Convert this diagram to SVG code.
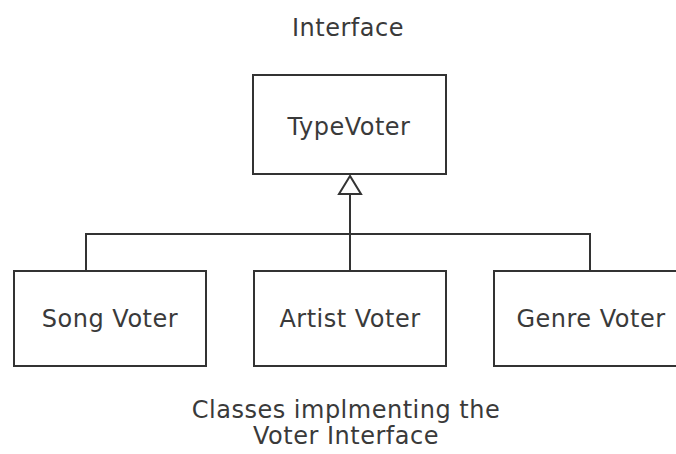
<svg xmlns="http://www.w3.org/2000/svg" width="676" height="454" viewBox="0 0 676 454">
<style>
.box{fill:#fff;stroke:#333;stroke-width:2}
.lbl{font-family:"DejaVu Sans",sans-serif;font-size:24px;letter-spacing:0.5px;fill:#3a3a3a;text-anchor:middle}
.con{fill:none;stroke:#333;stroke-width:2}
</style>
<rect width="676" height="454" fill="#fff"/>
<text class="lbl" x="348" y="36">Interface</text>
<g id="connectors">
<polyline class="con" points="86,271 86,234 590,234 590,271"/>
<line class="con" x1="350" y1="194" x2="350" y2="270"/>
<polygon points="350,176 339,194 361,194" fill="#fff" stroke="#333" stroke-width="2"/>
</g>
<g id="typevoter">
<rect class="box" x="253" y="75" width="193" height="99"/>
<text class="lbl" x="349" y="135">TypeVoter</text>
</g>
<g id="songvoter">
<rect class="box" x="14" y="271" width="192" height="95"/>
<text class="lbl" x="110" y="327">Song Voter</text>
</g>
<g id="artistvoter">
<rect class="box" x="254" y="271" width="192" height="95"/>
<text class="lbl" x="350" y="327">Artist Voter</text>
</g>
<g id="genrevoter">
<rect class="box" x="494" y="271" width="192" height="95"/>
<text class="lbl" x="591" y="327">Genre Voter</text>
</g>
<text class="lbl" x="346" y="418">Classes implmenting the</text>
<text class="lbl" x="346" y="444">Voter Interface</text>
</svg>
